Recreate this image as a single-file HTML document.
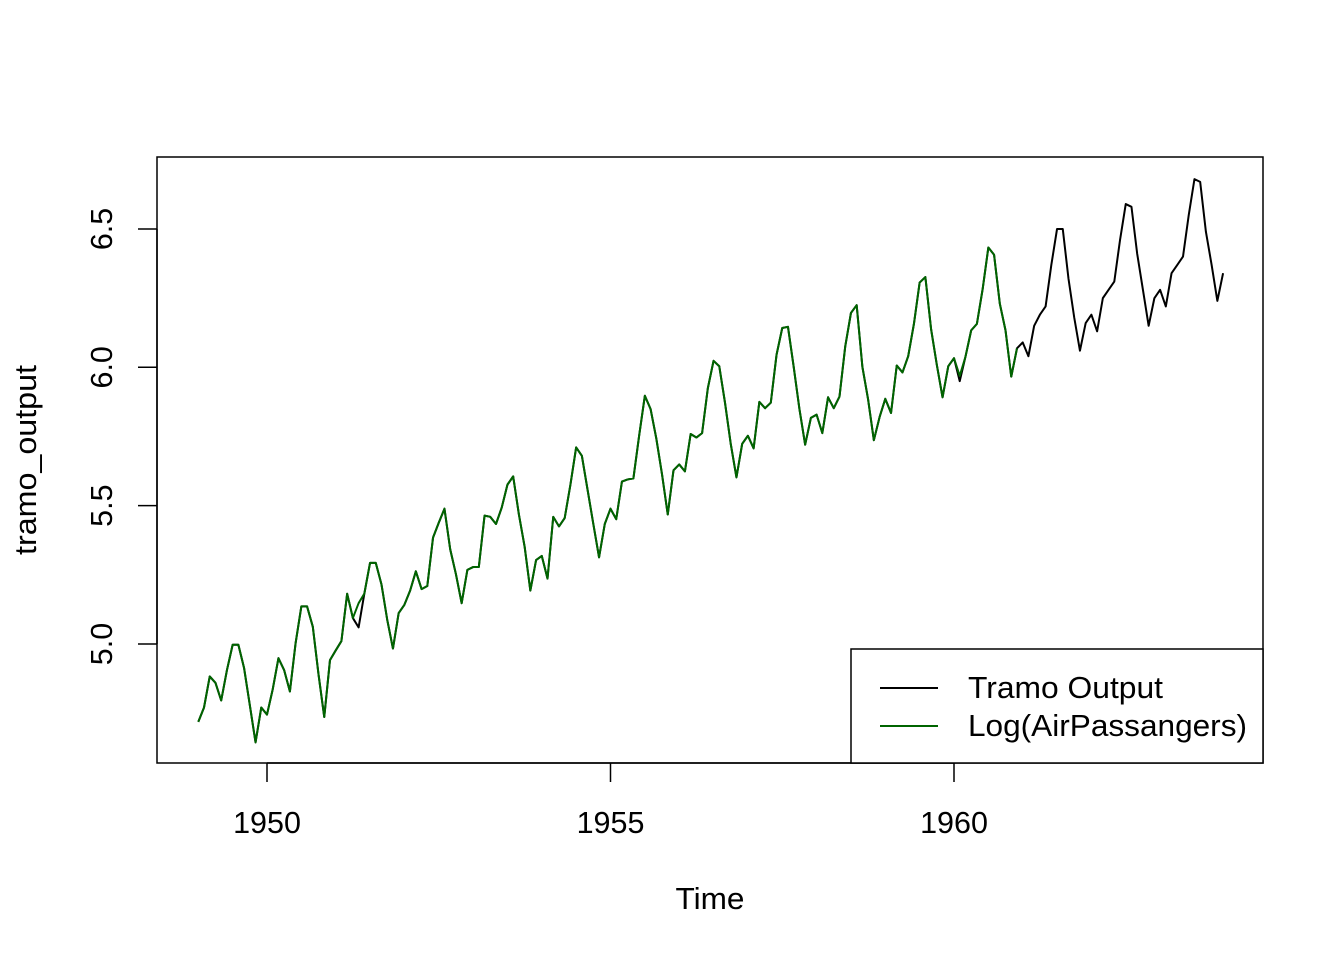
<!DOCTYPE html>
<html><head><meta charset="utf-8"><style>
body{margin:0;background:#fff}
svg text{font-family:"Liberation Sans",sans-serif;fill:#000}
</style></head><body>
<svg id="chart" width="1344" height="960" xmlns="http://www.w3.org/2000/svg">
<rect width="1344" height="960" fill="#fff"/>
<rect x="157" y="157" width="1106" height="606" fill="none" stroke="#000" stroke-width="1.5"/>
<g id="axes"></g>
<g id="series"></g>
<text x="710" y="909" font-size="31" text-anchor="middle" textLength="69" lengthAdjust="spacingAndGlyphs">Time</text>
<text transform="translate(36,460) rotate(-90)" font-size="31" text-anchor="middle" textLength="190" lengthAdjust="spacingAndGlyphs">tramo_output</text>
<g>
<rect x="851" y="649" width="412" height="114" fill="#fff" stroke="#000" stroke-width="1.5"/>
<line x1="880" y1="688" x2="938" y2="688" stroke="#000" stroke-width="2"/>
<text x="968" y="698" font-size="31" textLength="195" lengthAdjust="spacingAndGlyphs">Tramo Output</text>
<line x1="880" y1="726" x2="938" y2="726" stroke="#006400" stroke-width="2"/>
<text x="968" y="736" font-size="31" textLength="279" lengthAdjust="spacingAndGlyphs">Log(AirPassangers)</text>
</g>
</svg>
<script>
const passengers=[112,118,132,129,121,135,148,148,136,119,104,118,
115,126,141,135,125,149,170,170,158,133,114,140,
145,150,178,163,172,178,199,199,184,162,146,166,
171,180,193,181,183,218,230,242,209,191,172,194,
196,196,236,235,229,243,264,272,237,211,180,201,
204,188,235,227,234,264,302,293,259,229,203,229,
242,233,267,269,270,315,364,347,312,274,237,278,
284,277,317,313,318,374,413,405,355,306,271,306,
315,301,356,348,355,422,465,467,404,347,305,336,
340,318,362,348,363,435,491,505,404,359,310,337,
360,342,406,396,420,472,548,559,463,407,362,405,
417,391,419,461,472,535,622,606,508,461,390,432];
const forecast=[6.09,6.04,6.15,6.19,6.22,6.37,6.50,6.50,6.32,6.18,6.06,6.16,
6.19,6.13,6.25,6.28,6.31,6.46,6.59,6.58,6.41,6.28,6.15,6.25,
6.28,6.22,6.34,6.37,6.40,6.55,6.68,6.67,6.49,6.37,6.24,6.34];
const tramoOverrides={28:5.06,133:5.95};
const xTicks=[1950,1955,1960];
const yTicks=[5.0,5.5,6.0,6.5];
const startYear=1949;
const X=t=>267+(t-1950)*68.7;
const Y=v=>644-(v-5.0)*276.7;
const NS="http://www.w3.org/2000/svg";
const axes=document.getElementById('axes'),ser=document.getElementById('series');
function mk(tag,attrs,parent){const e=document.createElementNS(NS,tag);for(const k in attrs)e.setAttribute(k,attrs[k]);parent.appendChild(e);return e;}
mk('line',{x1:X(xTicks[0]),x2:X(xTicks[xTicks.length-1]),y1:763,y2:763,stroke:'#000','stroke-width':1.5},axes);
mk('line',{x1:157,x2:157,y1:Y(yTicks[0]),y2:Y(yTicks[yTicks.length-1]),stroke:'#000','stroke-width':1.5},axes);
xTicks.forEach(t=>{
 const l=mk('line',{x1:X(t),x2:X(t),y1:763,y2:782,stroke:'#000','stroke-width':1.5},axes);
 
 
 const tx=mk('text',{x:X(t),y:833,'font-size':30.5,'text-anchor':'middle'},axes);tx.textContent=t;
 
 
});
yTicks.forEach(v=>{
 const l=mk('line',{x1:138,x2:157,y1:Y(v),y2:Y(v),stroke:'#000','stroke-width':1.5},axes);
 
 
 const tx=mk('text',{transform:`translate(112,${Y(v)}) rotate(-90)`,'font-size':30.5,'text-anchor':'middle'},axes);tx.textContent=v.toFixed(1);
 
 
});
const logs=passengers.map(p=>Math.log(p));
const tramo=logs.map((v,i)=>tramoOverrides[i]!==undefined?tramoOverrides[i]:v).concat(forecast);
function path(vals,color,name){
 const d=vals.map((v,i)=>(i?'L':'M')+X(startYear+i/12).toFixed(2)+','+Y(v).toFixed(2)).join('');
 const p=mk('path',{d:d,fill:'none',stroke:color,'stroke-width':2,'stroke-linejoin':'round'},ser);
 
 
}
path(tramo,'#000','tramo-output-line');
path(logs,'#006400','log-airpassengers-line');
</script>
</body></html>
